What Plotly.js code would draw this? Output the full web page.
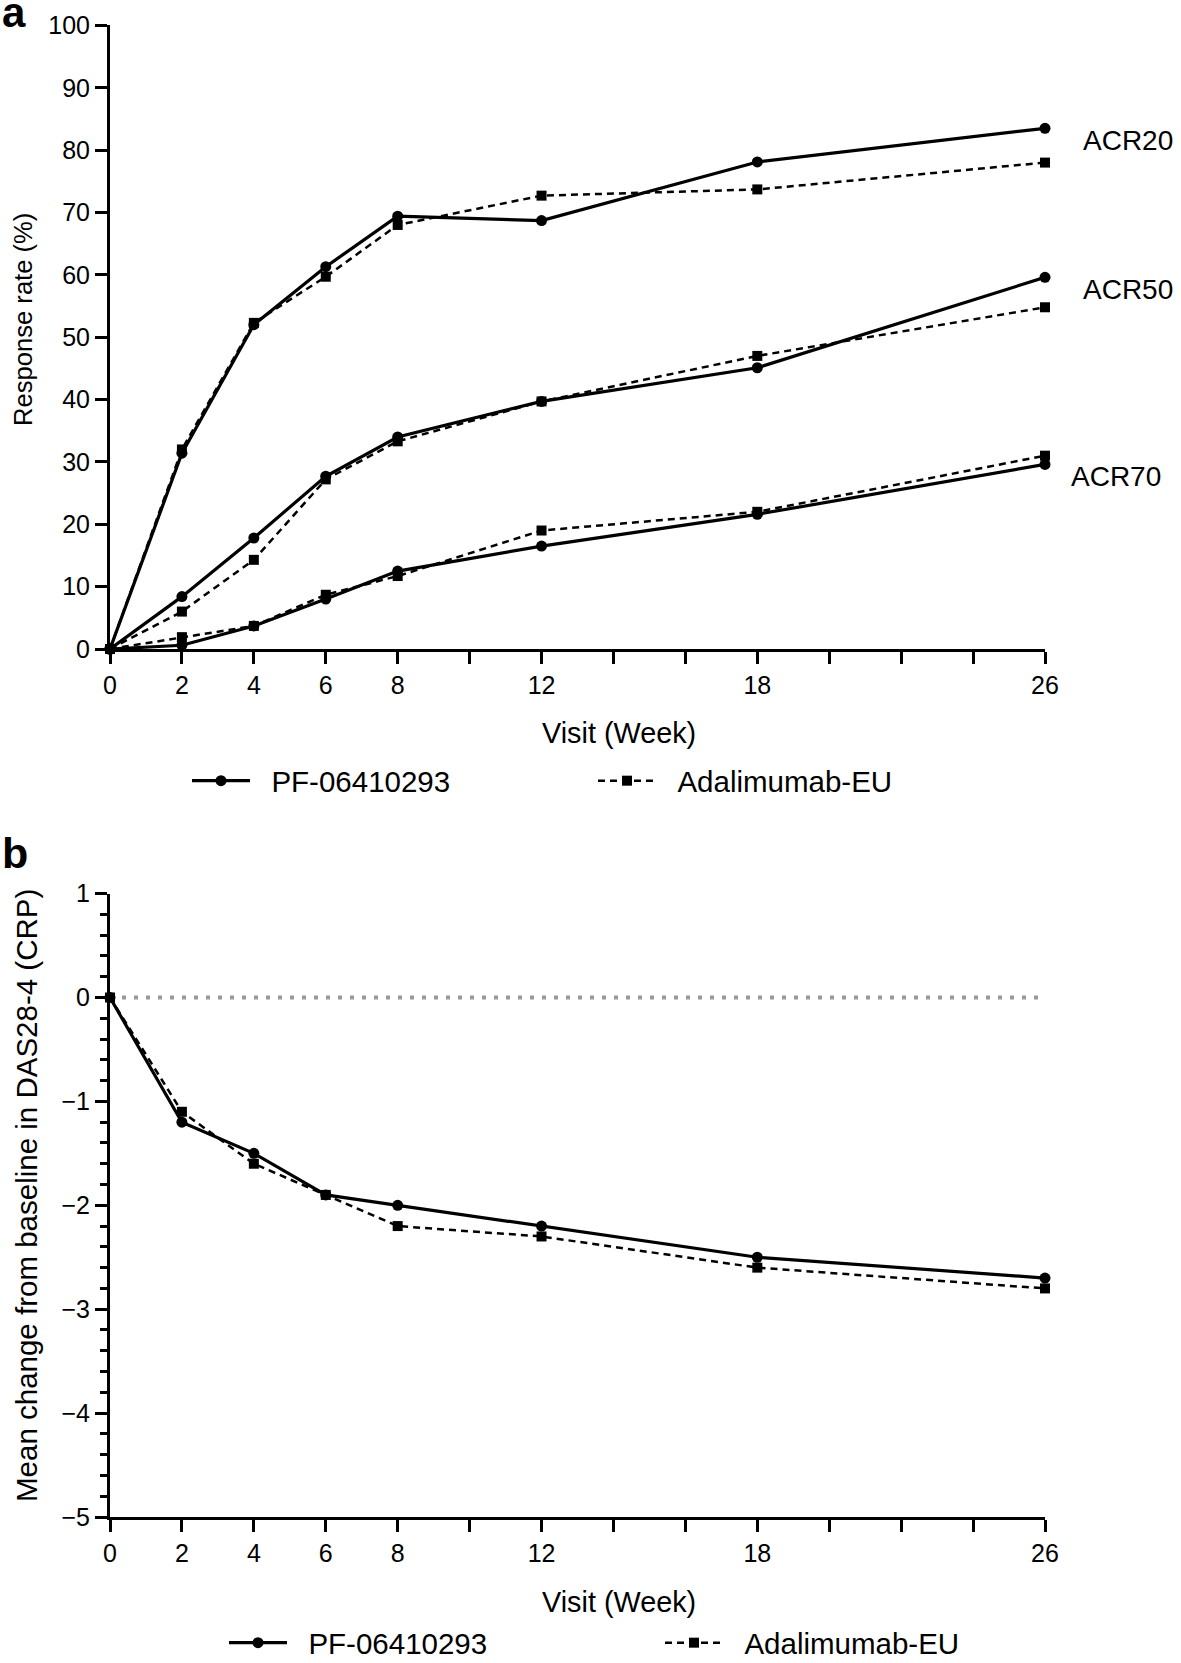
<!DOCTYPE html>
<html>
<head>
<meta charset="utf-8">
<script src="https://cdn.plot.ly/plotly-3.0.1.min.js"></script>
<style>html,body{margin:0;padding:0;background:#fff;}#chart{width:1181px;height:1663px;}</style>
</head>
<body>
<div id="chart"></div>
<script>
// ---- Data ----
const weeks = [0, 2, 4, 6, 8, 12, 18, 26];

const acr20_pf  = [0, 31.4, 52.0, 61.3, 69.4, 68.7, 78.1, 83.5];
const acr20_ada = [0, 32.0, 52.3, 59.7, 68.0, 72.7, 73.7, 78.0];
const acr50_pf  = [0, 8.4, 17.8, 27.7, 34.0, 39.7, 45.1, 59.6];
const acr50_ada = [0, 6.0, 14.3, 27.2, 33.3, 39.7, 47.0, 54.8];
const acr70_pf  = [0, 0.6, 3.7, 8.0, 12.5, 16.5, 21.6, 29.6];
const acr70_ada = [0, 1.9, 3.7, 8.7, 11.7, 19.0, 22.0, 31.0];

const das_pf  = [0, -1.2, -1.5, -1.9, -2.0, -2.2, -2.5, -2.7];
const das_ada = [0, -1.1, -1.6, -1.9, -2.2, -2.3, -2.6, -2.8];

const seriesNames = ["PF-06410293", "Adalimumab-EU"];
const acrLabels = ["ACR20", "ACR50", "ACR70"];

const xTickVals = [0, 2, 4, 6, 8, 10, 12, 14, 16, 18, 20, 22, 24, 26];
const xTickText = ["0", "2", "4", "6", "8", "", "12", "", "", "18", "", "", "", "26"];
const yTickValsA = [0, 10, 20, 30, 40, 50, 60, 70, 80, 90, 100];
const yTickValsB = [-5, -4, -3, -2, -1, 0, 1];
const yTickTextB = ["\u22125", "\u22124", "\u22123", "\u22122", "\u22121", "0", "1"];

// ---- Styles ----
const FONT = "'Liberation Sans', Arial, Helvetica, sans-serif";
const W = 1181, H = 1663;
const px = v => v / W;           // pixel -> paper x
const py = v => 1 - v / H;       // pixel -> paper y
const GAP = "\u00A0\u00A0";      // small space between legend symbol and text

const pfStyle = {
  mode: "lines+markers",
  line: {color: "#000", width: 3.2, dash: "solid"},
  marker: {symbol: "circle", size: 11, color: "#000"},
  cliponaxis: false, hoverinfo: "skip"
};
const adaStyle = {
  mode: "lines+markers",
  line: {color: "#000", width: 2.5, dash: "7px,5px"},
  marker: {symbol: "square", size: 10, color: "#000"},
  cliponaxis: false, hoverinfo: "skip"
};

function tr(style, x, y, name, xa, ya, show, legend) {
  return Object.assign({}, style, {
    x: x, y: y, name: GAP + name, xaxis: xa, yaxis: ya,
    showlegend: show, legend: legend
  });
}

const traces = [
  tr(pfStyle,  weeks, acr20_pf,  seriesNames[0], "x", "y", true,  "legend"),
  tr(adaStyle, weeks, acr20_ada, seriesNames[1], "x", "y", true,  "legend"),
  tr(pfStyle,  weeks, acr50_pf,  seriesNames[0], "x", "y", false, "legend"),
  tr(adaStyle, weeks, acr50_ada, seriesNames[1], "x", "y", false, "legend"),
  tr(pfStyle,  weeks, acr70_pf,  seriesNames[0], "x", "y", false, "legend"),
  tr(adaStyle, weeks, acr70_ada, seriesNames[1], "x", "y", false, "legend"),
  tr(pfStyle,  weeks, das_pf,    seriesNames[0], "x2", "y2", true, "legend2"),
  tr(adaStyle, weeks, das_ada,   seriesNames[1], "x2", "y2", true, "legend2")
];

const baseX = {
  range: [0, 26], tickvals: xTickVals, ticktext: xTickText,
  ticks: "outside", ticklen: 12, tickwidth: 3, tickcolor: "#000",
  showline: true, linewidth: 3, linecolor: "#000",
  showgrid: false, zeroline: false, fixedrange: true,
  tickfont: {family: FONT, size: 25, color: "#000"}
};
const baseY = {
  ticks: "outside", ticklen: 12, tickwidth: 3, tickcolor: "#000",
  showline: true, linewidth: 3, linecolor: "#000",
  showgrid: false, zeroline: false, fixedrange: true,
  tickfont: {family: FONT, size: 25, color: "#000"}
};

const xDom = [px(110), px(1045)];

const legendBase = {
  orientation: "h", xanchor: "left", yanchor: "middle",
  font: {family: FONT, size: 29.5, color: "#000"},
  itemwidth: 58, entrywidthmode: "pixels",
  bgcolor: "rgba(0,0,0,0)", borderwidth: 0
};

const layout = {
  width: W, height: H,
  margin: {l: 0, r: 0, t: 0, b: 0, autoexpand: false},
  paper_bgcolor: "#fff", plot_bgcolor: "#fff",
  font: {family: FONT, color: "#000", size: 25},
  xaxis: Object.assign({}, baseX, {domain: xDom, anchor: "y"}),
  yaxis: Object.assign({}, baseY, {domain: [py(649), py(25.4)], range: [0, 100], tickvals: yTickValsA, anchor: "x"}),
  xaxis2: Object.assign({}, baseX, {domain: xDom, anchor: "y2"}),
  yaxis2: Object.assign({}, baseY, {
    domain: [py(1517), py(893.6)], range: [-5, 1],
    tickvals: yTickValsB, ticktext: yTickTextB, anchor: "x2",
    minor: {dtick: 0.2, tick0: 0, ticks: "outside", ticklen: 7, tickwidth: 3, tickcolor: "#000", showgrid: false}
  }),
  legend: Object.assign({}, legendBase, {x: px(187), y: py(781), entrywidth: 333}),
  legend2: Object.assign({}, legendBase, {x: px(224), y: py(1643), entrywidth: 363}),
  shapes: [{
    type: "line", xref: "x2", yref: "y2", x0: 0, x1: 26, y0: 0, y1: 0,
    line: {color: "#9a9a9a", width: 4, dash: "4px,8px"}, layer: "below"
  }],
  annotations: [
    {text: "<b>a</b>", xref: "paper", yref: "paper", x: px(0), y: py(12), xanchor: "left", yanchor: "middle", showarrow: false, font: {family: FONT, size: 42, color: "#000"}},
    {text: "<b>b</b>", xref: "paper", yref: "paper", x: px(0), y: py(853), xanchor: "left", yanchor: "middle", showarrow: false, font: {family: FONT, size: 43, color: "#000"}},
    {text: "Response rate (%)", xref: "paper", yref: "paper", x: px(23), y: py(320), xanchor: "center", yanchor: "middle", textangle: -90, showarrow: false, font: {family: FONT, size: 25.6, color: "#000"}},
    {text: "Visit (Week)", xref: "paper", yref: "paper", x: px(619), y: py(733), xanchor: "center", yanchor: "middle", showarrow: false, font: {family: FONT, size: 28.8, color: "#000"}},
    {text: "Mean change from baseline in DAS28-4 (CRP)", xref: "paper", yref: "paper", x: px(26), y: py(1196), xanchor: "center", yanchor: "middle", textangle: -90, showarrow: false, font: {family: FONT, size: 29.5, color: "#000"}},
    {text: "Visit (Week)", xref: "paper", yref: "paper", x: px(619), y: py(1602), xanchor: "center", yanchor: "middle", showarrow: false, font: {family: FONT, size: 28.8, color: "#000"}},
    {text: acrLabels[0], xref: "paper", yref: "paper", x: px(1081), y: py(140), xanchor: "left", yanchor: "middle", showarrow: false, font: {family: FONT, size: 28, color: "#000"}},
    {text: acrLabels[1], xref: "paper", yref: "paper", x: px(1081), y: py(289), xanchor: "left", yanchor: "middle", showarrow: false, font: {family: FONT, size: 28, color: "#000"}},
    {text: acrLabels[2], xref: "paper", yref: "paper", x: px(1069), y: py(477), xanchor: "left", yanchor: "middle", showarrow: false, font: {family: FONT, size: 28, color: "#000"}}
  ]
};

Plotly.newPlot("chart", traces, layout, {staticPlot: true, displayModeBar: false});
</script>
</body>
</html>
